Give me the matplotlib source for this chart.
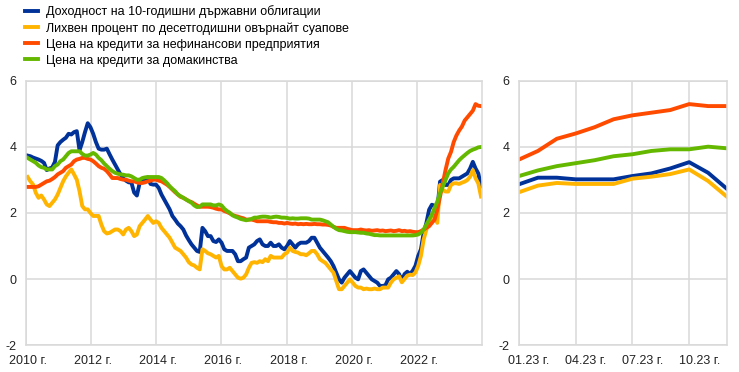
import numpy as np
import matplotlib.pyplot as plt
from matplotlib.transforms import ScaledTranslation

plt.rcParams["font.family"] = ["Liberation Sans", "DejaVu Sans"]
plt.rcParams["axes.unicode_minus"] = False

labels = [
    "Доходност на 10-годишни държавни облигации",
    "Лихвен процент по десетгодишни овърнайт суапове",
    "Цена на кредити за нефинансови предприятия",
    "Цена на кредити за домакинства",
]
colors = ["#003299", "#ffb400", "#ff4b00", "#65b800"]

# left panel: roughly monthly readings, Jan 2010 - Dec 2023
gov_yield = [
    3.74, 3.72, 3.68, 3.65, 3.62, 3.58, 3.52, 3.30, 3.35, 3.38, 3.55, 4.05,
    4.15, 4.22, 4.28, 4.40, 4.38, 4.45, 4.48, 3.90, 4.15, 4.45, 4.72, 4.60,
    4.40, 4.15, 3.95, 3.92, 3.92, 3.95, 3.78, 3.62, 3.47, 3.32, 3.17, 3.05,
    2.98, 2.93, 2.92, 2.62, 2.53, 2.90, 3.00, 3.02, 3.08, 2.88, 2.86, 2.86,
    2.76, 2.56, 2.41, 2.26, 2.11, 1.91, 1.80, 1.68, 1.60, 1.50, 1.32, 1.18,
    1.05, 0.95, 0.85, 0.82, 1.55, 1.45, 1.30, 1.30, 1.15, 1.12, 1.20, 1.10,
    0.90, 0.85, 0.85, 0.85, 0.75, 0.54, 0.54, 0.60, 0.65, 0.95, 1.00, 1.05,
    1.15, 1.20, 1.05, 1.00, 1.00, 1.10, 1.00, 1.00, 1.05, 0.95, 0.90, 1.00,
    1.15, 1.05, 0.95, 1.05, 1.10, 1.10, 1.10, 1.15, 1.25, 1.25, 1.10, 0.95,
    0.85, 0.75, 0.65, 0.54, 0.39, 0.19, -0.01, -0.11, 0.04, 0.14, 0.24, 0.14,
    0.04, -0.01, 0.24, 0.29, 0.19, 0.09, -0.01, -0.06, -0.11, -0.21, -0.21, -0.19,
    -0.01, 0.04, 0.14, 0.24, 0.15, -0.05, 0.15, 0.22, 0.15, 0.25, 0.40, 0.70,
    0.90, 1.40, 1.70, 2.10, 2.25, 2.22, 2.10, 2.95, 3.00, 2.85, 2.85, 3.00,
    3.05, 3.05, 3.05, 3.10, 3.15, 3.20, 3.35, 3.55, 3.35, 3.20, 2.80,
]
ois_swap = [
    3.09, 2.96, 2.86, 2.61, 2.46, 2.53, 2.41, 2.26, 2.21, 2.31, 2.41, 2.56,
    2.76, 2.96, 3.11, 3.22, 3.32, 3.17, 3.01, 2.66, 2.21, 2.11, 2.11, 2.00,
    1.91, 1.91, 1.91, 1.65, 1.45, 1.38, 1.40, 1.45, 1.50, 1.50, 1.45, 1.35,
    1.50, 1.55, 1.45, 1.30, 1.35, 1.60, 1.70, 1.80, 1.91, 1.80, 1.70, 1.75,
    1.70, 1.55, 1.45, 1.35, 1.25, 1.10, 0.95, 0.90, 0.85, 0.75, 0.65, 0.51,
    0.44, 0.41, 0.34, 0.29, 0.90, 0.85, 0.78, 0.75, 0.70, 0.65, 0.70, 0.39,
    0.29, 0.29, 0.34, 0.24, 0.14, 0.04, 0.01, 0.04, 0.14, 0.34, 0.49, 0.51,
    0.49, 0.54, 0.51, 0.60, 0.54, 0.70, 0.65, 0.65, 0.65, 0.65, 0.75, 0.80,
    0.95, 0.85, 0.82, 0.80, 0.75, 0.75, 0.72, 0.78, 0.85, 0.85, 0.75, 0.60,
    0.54, 0.49, 0.39, 0.29, 0.19, -0.06, -0.31, -0.31, -0.21, -0.11, -0.01, -0.11,
    -0.21, -0.26, -0.26, -0.31, -0.29, -0.31, -0.31, -0.29, -0.31, -0.31, -0.26, -0.26,
    -0.26, -0.11, -0.01, 0.04, 0.08, -0.10, 0.00, 0.10, 0.13, 0.12, 0.20, 0.40,
    0.70, 1.20, 1.50, 1.75, 1.90, 1.90, 1.70, 2.85, 2.70, 2.65, 2.65, 2.85,
    2.90, 2.90, 2.88, 2.92, 2.95, 3.00, 3.10, 3.30, 3.05, 2.90, 2.50,
]
nfc_rate = [
    2.79, 2.79, 2.79, 2.79, 2.81, 2.86, 2.91, 2.96, 2.98, 3.03, 3.09, 3.17,
    3.22, 3.27, 3.37, 3.42, 3.47, 3.57, 3.62, 3.64, 3.67, 3.67, 3.64, 3.62,
    3.57, 3.50, 3.42, 3.37, 3.34, 3.27, 3.17, 3.06, 3.06, 3.06, 3.03, 3.01,
    3.01, 2.98, 2.96, 2.96, 2.93, 2.91, 2.91, 2.93, 2.96, 2.98, 3.01, 3.01,
    2.98, 2.96, 2.91, 2.86, 2.79, 2.71, 2.63, 2.56, 2.49, 2.46, 2.41, 2.36,
    2.33, 2.28, 2.23, 2.19, 2.19, 2.19, 2.19, 2.18, 2.16, 2.13, 2.11, 2.11,
    2.06, 2.03, 1.99, 1.94, 1.91, 1.89, 1.86, 1.84, 1.80, 1.80, 1.80, 1.78,
    1.75, 1.75, 1.75, 1.75, 1.75, 1.73, 1.72, 1.72, 1.70, 1.70, 1.68, 1.70,
    1.68, 1.67, 1.68, 1.66, 1.67, 1.66, 1.67, 1.66, 1.66, 1.67, 1.66, 1.66,
    1.65, 1.65, 1.64, 1.62, 1.58, 1.55, 1.55, 1.55, 1.55, 1.52, 1.50, 1.48,
    1.48, 1.48, 1.50, 1.48, 1.47, 1.48, 1.46, 1.47, 1.48, 1.46, 1.47, 1.45,
    1.46, 1.47, 1.45, 1.46, 1.48, 1.45, 1.46, 1.44, 1.45, 1.43, 1.42, 1.42,
    1.45, 1.50, 1.55, 1.60, 1.70, 1.80, 2.10, 2.50, 2.90, 3.30, 3.65, 3.85,
    4.15, 4.35, 4.50, 4.62, 4.80, 4.90, 5.00, 5.10, 5.30, 5.25, 5.24,
]
hh_rate = [
    3.67, 3.62, 3.57, 3.52, 3.44, 3.39, 3.37, 3.32, 3.32, 3.32, 3.42, 3.47,
    3.57, 3.62, 3.72, 3.82, 3.87, 3.87, 3.87, 3.87, 3.79, 3.74, 3.74, 3.77,
    3.82, 3.77, 3.67, 3.60, 3.50, 3.42, 3.34, 3.27, 3.22, 3.19, 3.17, 3.16,
    3.14, 3.14, 3.11, 3.06, 3.01, 3.01, 3.06, 3.08, 3.09, 3.09, 3.09, 3.09,
    3.09, 3.06, 2.99, 2.91, 2.81, 2.73, 2.66, 2.56, 2.51, 2.46, 2.41, 2.36,
    2.31, 2.23, 2.18, 2.19, 2.26, 2.26, 2.26, 2.26, 2.23, 2.23, 2.26, 2.23,
    2.13, 2.06, 2.01, 1.93, 1.89, 1.86, 1.82, 1.80, 1.78, 1.80, 1.82, 1.86,
    1.86, 1.88, 1.89, 1.89, 1.88, 1.86, 1.88, 1.89, 1.88, 1.86, 1.86, 1.85,
    1.83, 1.84, 1.83, 1.83, 1.84, 1.84, 1.84, 1.83, 1.80, 1.80, 1.80, 1.80,
    1.78, 1.75, 1.72, 1.65, 1.58, 1.52, 1.48, 1.47, 1.45, 1.43, 1.42, 1.42,
    1.42, 1.41, 1.40, 1.40, 1.38, 1.37, 1.35, 1.33, 1.33, 1.32, 1.32, 1.32,
    1.32, 1.32, 1.32, 1.32, 1.32, 1.32, 1.32, 1.32, 1.32, 1.32, 1.33, 1.35,
    1.40, 1.50, 1.65, 1.80, 1.95, 2.15, 2.35, 2.60, 2.80, 3.00, 3.20, 3.32,
    3.40, 3.50, 3.60, 3.68, 3.75, 3.82, 3.88, 3.92, 3.95, 3.99, 4.00,
]
left_ticks = [2010, 2012, 2014, 2016, 2018, 2020, 2022]
left_ticklabels = [f"{y} г." for y in left_ticks]

# right panel: monthly 2023
months_2023 = list(range(12))
gov_yield_23 = [2.87, 3.07, 3.07, 3.02, 3.02, 3.02, 3.12, 3.20, 3.35, 3.54, 3.22, 2.73]
ois_swap_23 = [2.63, 2.83, 2.91, 2.88, 2.88, 2.88, 3.04, 3.10, 3.18, 3.32, 2.97, 2.49]
nfc_rate_23 = [3.62, 3.88, 4.25, 4.41, 4.60, 4.84, 4.96, 5.04, 5.12, 5.30, 5.24, 5.24]
hh_rate_23 = [3.12, 3.29, 3.42, 3.51, 3.60, 3.72, 3.78, 3.88, 3.93, 3.93, 4.01, 3.96]
right_ticks = [0, 3, 6, 9]
right_ticklabels = ["01.23 г.", "04.23 г.", "07.23 г.", "10.23 г."]

# sampling positions of the left-panel readings (years)
t_left = np.linspace(2010.05, 2023.97, len(gov_yield))

fig = plt.figure(figsize=(7.39, 3.72), dpi=100)
ax1 = fig.add_axes([26 / 739, 1 - 345 / 372, 456 / 739, 264 / 372])
ax2 = fig.add_axes([519 / 739, 1 - 345 / 372, 208 / 739, 264 / 372])

grid_c = "#d9d9d9"
lw = 2.8
fs = 9


def style(ax, dx):
    ax.set_ylim(-2, 6)
    ax.set_yticks([-2, 0, 2, 4, 6])
    ax.grid(True, color=grid_c, linewidth=1.1)
    ax.set_axisbelow(True)
    for s in ax.spines.values():
        s.set_color(grid_c)
        s.set_linewidth(1.1)
    ax.tick_params(length=0, labelsize=fs, colors="#222222", pad=7)
    # x labels sit a little to the right of their gridlines
    shift = ScaledTranslation(dx / 100, 0, fig.dpi_scale_trans)
    for t in ax.get_xticklabels():
        t.set_transform(t.get_transform() + shift)


left_series = [gov_yield, ois_swap, nfc_rate, hh_rate]
for vals, c, lab in zip(left_series, colors, labels):
    ax1.plot(t_left, vals, color=c, linewidth=lw, label=lab, solid_joinstyle="round")
ax1.set_xlim(2010, 2024)
ax1.set_xticks(left_ticks)
ax1.set_xticklabels(left_ticklabels)
style(ax1, 2)

right_series = [gov_yield_23, ois_swap_23, nfc_rate_23, hh_rate_23]
for vals, c in zip(right_series, colors):
    ax2.plot(months_2023, vals, color=c, linewidth=lw, solid_joinstyle="round")
ax2.set_xlim(0, 11)
ax2.set_xticks(right_ticks)
ax2.set_xticklabels(right_ticklabels)
style(ax2, 10)

handles, labs = ax1.get_legend_handles_labels()
fig.legend(handles, labs, loc="upper left", bbox_to_anchor=(25 / 739, 1 - 5 / 372),
           frameon=False, fontsize=fs, handlelength=1.05, handletextpad=0.65,
           borderpad=0, borderaxespad=0, labelspacing=0.33)

fig.savefig("out.png", dpi=100)
